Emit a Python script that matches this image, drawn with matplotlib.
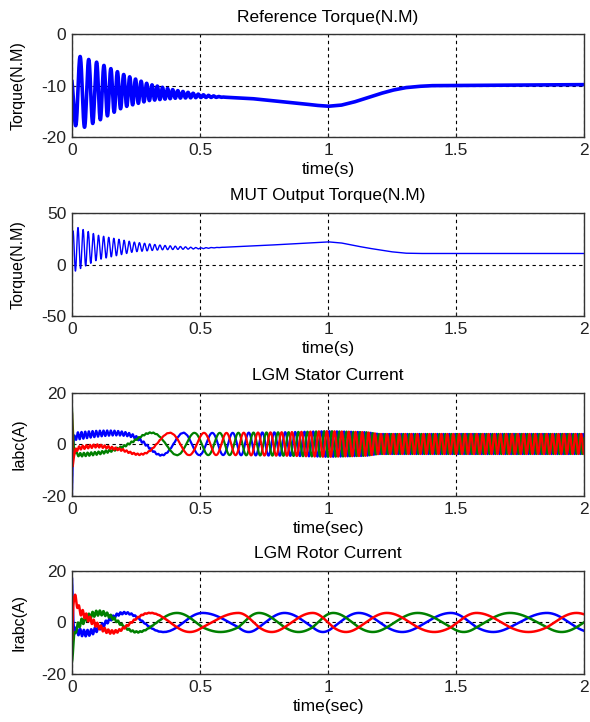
import matplotlib
matplotlib.use('Agg')
import matplotlib.pyplot as plt
import numpy as np

plt.rcParams['font.family'] = ['Liberation Sans', 'DejaVu Sans']
plt.rcParams['font.size'] = 10
plt.rcParams['axes.unicode_minus'] = False

# ---- values ----
t = np.arange(0, 2.0001, 0.0002)

# reference torque: slow trend, oscillation envelope and frequency
ref_mean_t = [0, 0.1, 0.2, 0.3, 0.5, 0.7, 0.9, 0.95, 1.0, 1.05, 1.1, 1.15, 1.2, 1.25, 1.3, 1.35, 1.4, 2.0]
ref_mean = [-11.5, -11.2, -11.0, -11.3, -12.0, -12.5, -13.5, -13.8, -14.0, -13.8, -13.2,
            -12.4, -11.6, -10.9, -10.4, -10.15, -10.0, -9.8]
ref_amp_t = [0, 0.02, 0.1, 0.2, 0.3, 0.4, 0.5, 0.6]
ref_amp = [4.0, 7.3, 5.7, 3.2, 1.6, 0.8, 0.3, 0.0]
ref_freq_t = [0, 0.05, 0.15, 0.25, 0.35, 2.0]
ref_freq = [25, 30, 38, 45, 50, 50]

# MUT output torque
mut_mean_t = [0, 0.1, 0.25, 0.5, 0.75, 0.9, 1.0, 1.05, 1.1, 1.15, 1.2, 1.25, 1.3, 1.35, 2.0]
mut_mean = [15, 16.5, 17, 15.7, 18.5, 20.6, 22, 21, 18.5, 16.2, 14.2, 12.3, 11, 10.7, 10.7]
mut_amp_t = [0, 0.01, 0.1, 0.24, 0.35, 0.5, 0.6]
mut_amp = [15, 22, 12, 4.8, 2.2, 0.5, 0.0]
mut_freq_t = [0, 2.0]
mut_freq = [50, 50]

# LGM stator current (three phase, accelerating)
st_freq_t = [0, 0.1, 0.2, 0.3, 0.4, 0.5, 0.6, 0.7, 0.8, 0.9, 1.0, 1.1, 1.2, 2.0]
st_freq = [0.6, 0.8, 1.5, 3.5, 6.0, 9.0, 13, 18, 23, 28, 33, 38, 42, 45]
st_peak_green = 0.31
st_amp_t = [0, 0.6, 0.85, 1.0, 1.15, 1.2, 2.0]
st_amp = [4.4, 4.3, 4.6, 5.0, 4.6, 3.9, 3.9]
st_tr_t = [0, 0.003, 0.007, 0.015, 0.03, 0.06, 0.1, 0.2, 0.3]
st_tr_b = [-21, -6, -1.5, 0.0, 0.0, 0.0, 0.0, -0.2, 0]
st_tr_r = [10, -10, -6, -3.5, -2.5, -1.5, -0.3, 0.8, 0]
st_tr_g = [18, 10, 3, 0.5, 0, 0, 0, 0, 0]
st_rip_t = [0, 0.15, 0.25, 0.35, 0.5]
st_rip = [1.5, 1.0, 0.6, 0.2, 0.0]

# LGM rotor current: times of successive phase peaks (blue, red, green, ...)
rt_peaks = [0.207, 0.305, 0.41, 0.51, 0.65, 0.73, 0.83, 0.94, 1.02,
            1.12, 1.23, 1.35, 1.48, 1.58, 1.71, 1.855, 1.97]
rt_amp = 3.7
rt_tr_t = [0, 0.005, 0.008, 0.015, 0.03, 0.06, 0.1]
rt_tr_b = [18, 1, -1, -1, -0.8, -0.4, 0]
rt_tr_r = [-11.6, 4, 7, 5, 1, 0, 0]
rt_tr_g = [-11.5, -7, -4, -1, 0, 0, 0]
rt_rip_t = [0, 0.1, 0.2, 0.3, 0.4]
rt_rip = [1.5, 1.0, 0.4, 0.1, 0.0]

# ---- build curves ----
def phase(ft, f):
    fr = np.interp(t, ft, f)
    return 2 * np.pi * np.cumsum(fr) * (t[1] - t[0])

ref = np.interp(t, ref_mean_t, ref_mean) + np.interp(t, ref_amp_t, ref_amp) * np.sin(phase(ref_freq_t, ref_freq) + 2.5)
mut = np.interp(t, mut_mean_t, mut_mean) + np.interp(t, mut_amp_t, mut_amp) * np.sin(phase(mut_freq_t, mut_freq) + 0.4)

th = phase(st_freq_t, st_freq)
th = th - np.interp(st_peak_green, t, th)
sa = np.interp(t, st_amp_t, st_amp)
srip = np.interp(t, st_rip_t, st_rip)
st_g = 0.2 + sa * np.cos(th) + np.interp(t, st_tr_t, st_tr_g) + 0.5 * srip * np.sin(2 * np.pi * 70 * t)
st_r = 0.2 + sa * np.cos(th - 2 * np.pi / 3) + np.interp(t, st_tr_t, st_tr_r) + 0.5 * srip * np.sin(2 * np.pi * 70 * t + 2)
st_b = 0.2 + sa * np.cos(th + 2 * np.pi / 3) + np.interp(t, st_tr_t, st_tr_b) + srip * np.sin(2 * np.pi * 70 * t + 4)

pk = np.array(rt_peaks)
pth = np.arange(len(pk)) * 2 * np.pi / 3
rth = np.interp(t, pk, pth)
slope0 = (pth[1] - pth[0]) / (pk[1] - pk[0])
slope1 = (pth[-1] - pth[-2]) / (pk[-1] - pk[-2])
rth = np.where(t < pk[0], (t - pk[0]) * slope0, rth)
rth = np.where(t > pk[-1], pth[-1] + (t - pk[-1]) * slope1, rth)
rrip = np.interp(t, rt_rip_t, rt_rip)
rt_b = rt_amp * np.cos(rth) + np.interp(t, rt_tr_t, rt_tr_b) + rrip * np.sin(2 * np.pi * 70 * t)
rt_r = rt_amp * np.cos(rth - 2 * np.pi / 3) + np.interp(t, rt_tr_t, rt_tr_r) + rrip * np.sin(2 * np.pi * 70 * t + 2)
rt_g = rt_amp * np.cos(rth - 4 * np.pi / 3) + np.interp(t, rt_tr_t, rt_tr_g) + rrip * np.sin(2 * np.pi * 70 * t + 4)

# ---- figure ----
blue = (0, 0, 1)
red = (1, 0, 0)
green = (0, 0.5, 0)

fig = plt.figure(figsize=(5.9, 7.22), dpi=100)
left, width, height = 0.122, 0.868, 0.1427
bottoms = [0.810, 0.5623, 0.313, 0.0665]
axes = [fig.add_axes([left, b, width, height]) for b in bottoms]

ax = axes[0]
ax.plot(t, ref, color=blue, lw=2.6)
ax.set_ylim(-20, 0)
ax.set_yticks([-20, -10, 0])
ax.set_title('Reference Torque(N.M)')
ax.set_xlabel('time(s)')
ax.set_ylabel('Torque(N.M)')

ax = axes[1]
ax.plot(t, mut, color=blue, lw=1.0)
ax.set_ylim(-50, 50)
ax.set_yticks([-50, 0, 50])
ax.set_title('MUT Output Torque(N.M)')
ax.set_xlabel('time(s)')
ax.set_ylabel('Torque(N.M)')

ax = axes[2]
ax.plot(t, st_b, color=blue, lw=1.6)
ax.plot(t, st_g, color=green, lw=1.6)
ax.plot(t, st_r, color=red, lw=1.6)
ax.set_ylim(-20, 20)
ax.set_yticks([-20, 0, 20])
ax.set_title('LGM Stator Current')
ax.set_xlabel('time(sec)')
ax.set_ylabel('Iabc(A)')

ax = axes[3]
ax.plot(t, rt_b, color=blue, lw=1.8)
ax.plot(t, rt_g, color=green, lw=1.8)
ax.plot(t, rt_r, color=red, lw=1.8)
ax.set_ylim(-20, 20)
ax.set_yticks([-20, 0, 20])
ax.set_title('LGM Rotor Current')
ax.set_xlabel('time(sec)')
ax.set_ylabel('Irabc(A)')

for ax in axes:
    ax.set_xlim(0, 2)
    ax.set_xticks([0, 0.5, 1, 1.5, 2])
    ax.set_xticklabels(['0', '0.5', '1', '1.5', '2'])
    ax.grid(True, color='k', linestyle=(0, (3, 3)), lw=0.8)
    ax.tick_params(direction='in', length=3, labelsize=12.5, pad=4, colors='#222222')
    ax.set_title(ax.get_title(), fontsize=12.5, pad=9)
    ax.xaxis.label.set_fontsize(12.5)
    ax.yaxis.label.set_fontsize(11.5)
    ax.xaxis.labelpad = 3
    ax.yaxis.labelpad = 11
    for s in ax.spines.values():
        s.set_color('#333333')
        s.set_linewidth(1.0)

fig.savefig('out.png', dpi=100)
